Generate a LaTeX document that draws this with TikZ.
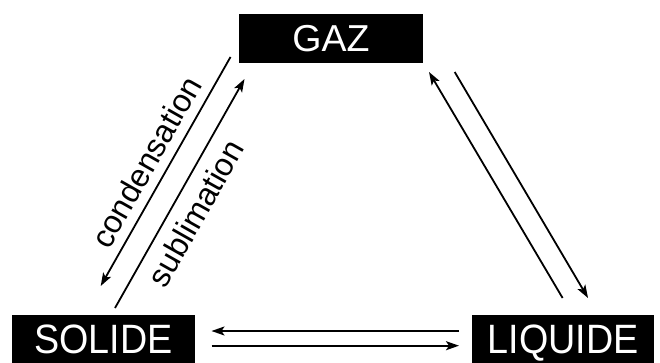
\documentclass[tikz,border=0pt]{standalone}
\usepackage{fontspec}
\setmainfont{Liberation Sans}
\newfontfamily\narrowsans[FakeStretch=0.92]{Liberation Sans}
\usetikzlibrary{arrows.meta}
\tikzset{
  phase/.style={fill=black, text=white, inner sep=0pt},
  flow/.style={line width=1.8pt, -{Stealth[length=13pt,width=9pt,inset=3pt]}},
  lbl/.style={font=\fontsize{32}{32}\selectfont, inner sep=0pt}
}
\begin{document}
\begin{tikzpicture}[x=1pt,y=-1pt]
\useasboundingbox (0,0) rectangle (660,363);
\node[phase, minimum width=184pt, minimum height=49pt, text height=26.5pt, text depth=0pt,
      font=\fontsize{37.5}{37.5}\selectfont] (gaz) at (331,38.5) {GAZ};
\node[phase, minimum width=183pt, minimum height=52pt, text height=30pt, text depth=6pt,
      font=\narrowsans\fontsize{41}{41}\selectfont] (solide) at (103.5,341) {SOLIDE};
\node[phase, minimum width=182pt, minimum height=52pt, text height=30pt, text depth=6pt,
      font=\narrowsans\fontsize{41}{41}\selectfont] (liquide) at (563,341) {LIQUIDE};
% arrow end points
\coordinate (c1) at (230.5,57);
\coordinate (c2) at (100.7,286);
\coordinate (s1) at (115,308);
\coordinate (s2) at (244.5,79);
\coordinate (u1) at (562.6,298);
\coordinate (u2) at (429,72);
\coordinate (d1) at (454.7,72);
\coordinate (d2) at (588,298);
\coordinate (h1) at (459,331);
\coordinate (h2) at (211.5,331);
\coordinate (h3) at (211.5,345.7);
\coordinate (h4) at (459,345.7);
\draw[flow] (c1) -- (c2);
\draw[flow] (s1) -- (s2);
\draw[flow] (u1) -- (u2);
\draw[flow] (d1) -- (d2);
\draw[flow] (h1) -- (h2);
\draw[flow] (h3) -- (h4);
\node[lbl, rotate=60.5] (cond) at (146,162) {condensation};
\node[lbl, rotate=60.5] (subl) at (195.5,213) {sublimation};
\end{tikzpicture}
\end{document}
